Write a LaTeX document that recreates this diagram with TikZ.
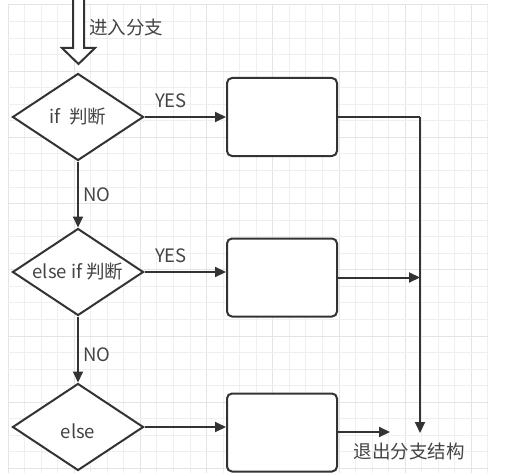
\documentclass[tikz,border=0pt]{standalone}
\usepackage{fontspec}
\setmainfont{Noto Sans CJK SC}
\usetikzlibrary{arrows.meta,shapes.geometric}
\definecolor{ln}{HTML}{333333}
\definecolor{tx}{HTML}{444444}
\definecolor{gmin}{HTML}{EFEFEF}
\definecolor{gmaj}{HTML}{E4E4E4}
\tikzset{
  dia/.style={draw=ln,line width=2pt,fill=white,diamond,minimum width=131pt,minimum height=87pt,inner sep=0pt,aspect=1.5},
  blk/.style={draw=ln,line width=2pt,fill=white,rounded corners=5pt,minimum width=110pt,minimum height=78pt,inner sep=0pt},
  lbl/.style={text=tx,font=\fontsize{18.5}{20}\selectfont,inner sep=0pt},
  conn/.style={draw=ln,line width=2pt,-{Triangle[length=11pt,width=10pt]}},
  plain/.style={draw=ln,line width=2pt},
}
\begin{document}
\begin{tikzpicture}[x=1pt,y=-1pt]
\useasboundingbox (0,0) rectangle (513,473);
\fill[white] (0,0) rectangle (513,473);
% grid
\foreach \i in {0,...,29} {
  \pgfmathsetmacro{\gx}{8+16.55*\i}
  \pgfmathtruncatemacro{\m}{mod(\i,4)}
  \ifnum\m=0 \draw[gmaj,line width=1pt] (\gx,5) -- (\gx,473);
  \else \draw[gmin,line width=1pt] (\gx,5) -- (\gx,473); \fi
}
\foreach \j in {0,...,28} {
  \pgfmathsetmacro{\gy}{5+16.55*\j}
  \pgfmathtruncatemacro{\m}{mod(\j,4)}
  \ifnum\m=0 \draw[gmaj,line width=1pt] (8,\gy) -- (488,\gy);
  \else \draw[gmin,line width=1pt] (8,\gy) -- (488,\gy); \fi
}
% entry hollow arrow
\draw[ln,line width=2pt,fill=white,line join=miter]
  (73,-2) -- (73,48) -- (62,48) -- (78.5,64) -- (95,48) -- (84,48) -- (84,-2);
\node[lbl,anchor=west] (entry) at (89,27) {进入分支};
% diamonds
\node[dia] (d1) at (78,117) {};
\node[lbl] at (d1.center) {if\ \ 判断};
\node[dia] (d2) at (78,272) {};
\node[lbl] at (d2.center) {else if 判断};
\node[dia] (d3) at (78,427) {};
\node[lbl] at (78,431) {else};
% boxes
\node[blk] (b1) at (282,117) {};
\node[blk] (b2) at (282,277.5) {};
\node[blk] (b3) at (282,432.5) {};
% connectors
\draw[conn] (d1.east) -- (b1.west |- d1.east);
\draw[conn] (d2.east) -- (b2.west |- d2.east);
\draw[conn] (d3.east) -- (b3.west |- d3.east);
\draw[conn] (d1.south) -- (d2.north);
\draw[conn] (d2.south) -- (d3.north);
\coordinate (cr) at (420,117);
\coordinate (ce) at (420,433);
\coordinate (c3) at (390,432);
\draw[plain] (b1.east) -- (cr);
\draw[conn] (cr) -- (ce);
\draw[conn] (b2.east) -- (b2.east -| cr);
\draw[conn] (b3.east |- c3) -- (c3);
% labels
\node[lbl] (y1) at (171,101) {YES};
\node[lbl] (y2) at (171,256) {YES};
\node[lbl] (n1) at (97,195) {NO};
\node[lbl] (n2) at (97,355) {NO};
\node[lbl] (exit) at (409,451) {退出分支结构};
\end{tikzpicture}
\end{document}
